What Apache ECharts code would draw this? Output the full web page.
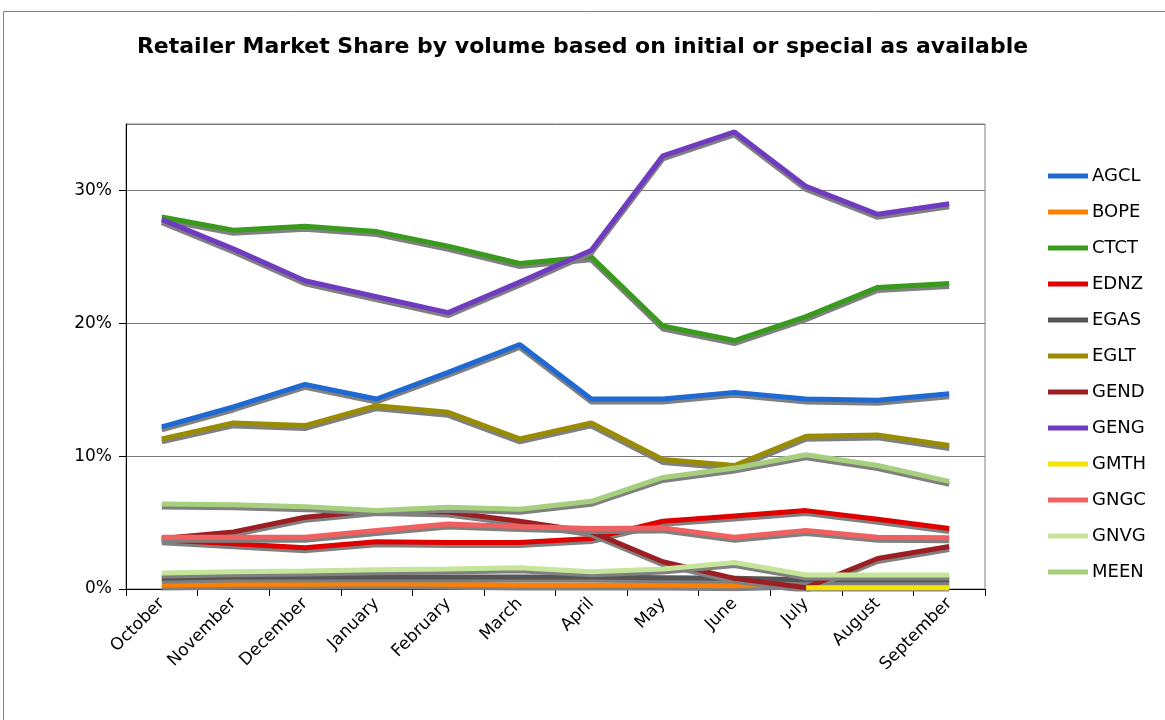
<!DOCTYPE html>
<html>
<head>
<meta charset="utf-8">
<script src="https://cdn.jsdelivr.net/npm/echarts@6/dist/echarts.min.js"></script>
<style>html,body{margin:0;padding:0;background:#fff;}#c{width:1165px;height:720px;}</style>
</head>
<body>
<div id="c"></div>
<script>
var months = ['October','November','December','January','February','March','April','May','June','July','August','September'];
var yTicks = [0, 10, 20, 30];
var AGCL = [12.2, 13.7, 15.4, 14.3, 16.3, 18.4, 14.3, 14.3, 14.8, 14.3, 14.2, 14.7];
var BOPE = [0.3, 0.35, 0.35, 0.4, 0.35, 0.3, 0.3, 0.3, 0.25, 0.4, 0.4, 0.4];
var CTCT = [28.0, 27.0, 27.3, 26.9, 25.8, 24.5, 25.0, 19.8, 18.7, 20.5, 22.7, 23.0];
var EDNZ = [3.7, 3.4, 3.1, 3.55, 3.5, 3.5, 3.8, 5.1, 5.5, 5.9, 5.25, 4.55];
var EGAS = [0.8, 0.9, 0.9, 0.9, 0.9, 0.9, 0.9, 0.85, 0.8, 0.7, 0.7, 0.7];
var EGLT = [11.3, 12.5, 12.3, 13.8, 13.3, 11.3, 12.5, 9.75, 9.3, 11.5, 11.6, 10.8];
var GEND = [3.8, 4.3, 5.4, 5.9, 5.8, 5.1, 4.3, 2.05, 0.8, 0.1, 2.3, 3.2];
var GENG = [27.8, 25.6, 23.2, 22.0, 20.8, 23.1, 25.5, 32.6, 34.4, 30.3, 28.2, 29.0];
var GMTH = ['-', '-', '-', '-', '-', '-', '-', '-', '-', 0.1, 0.1, 0.1];
var GNGC = [3.9, 3.9, 3.9, 4.4, 4.9, 4.7, 4.55, 4.6, 3.9, 4.4, 3.9, 3.85];
var GNVG = [1.2, 1.3, 1.35, 1.45, 1.5, 1.6, 1.3, 1.5, 2.0, 1.05, 1.05, 1.05];
var MEEN = [6.4, 6.35, 6.2, 5.9, 6.15, 6.0, 6.6, 8.4, 9.1, 10.1, 9.3, 8.1];

var seriesNames = ['AGCL','BOPE','CTCT','EDNZ','EGAS','EGLT','GEND','GENG','GMTH','GNGC','GNVG','MEEN'];
var seriesData = [AGCL, BOPE, CTCT, EDNZ, EGAS, EGLT, GEND, GENG, GMTH, GNGC, GNVG, MEEN];
var colors = ['#1e69d2','#ff8000','#3a9a1e','#e00000','#555555','#9a8c00','#9b1e22','#6f3cc0','#f5e400','#f06060','#c4e59a','#a6d07d'];

var chart = echarts.init(document.getElementById('c'), null, {renderer: 'canvas'});
var font = 'DejaVu Sans, Verdana, sans-serif';
var series = seriesNames.map(function (n, i) {
  return {
    name: n,
    type: 'line',
    data: seriesData[i],
    symbol: 'none',
    color: colors[i],
    lineStyle: {
      width: 5,
      color: colors[i],
      shadowColor: 'rgba(128,128,128,1)',
      shadowBlur: 0,
      shadowOffsetX: 0,
      shadowOffsetY: 3
    },
    emphasis: {disabled: true},
    animation: false
  };
});

chart.setOption({
  backgroundColor: '#fff',
  animation: false,
  color: colors,
  title: {
    text: 'Retailer Market Share by volume based on initial or special as available',
    left: 'center',
    top: 31,
    textStyle: {fontFamily: font, fontSize: 22, fontWeight: 'bold', color: '#000'}
  },
  graphic: [{
    type: 'rect',
    shape: {x: 3.5, y: 11.5, width: 1300, height: 900},
    style: {fill: 'none', stroke: '#808080', lineWidth: 1},
    silent: true
  }],
  legend: {
    orient: 'vertical',
    left: 1043,
    top: 162,
    icon: 'rect',
    itemWidth: 40,
    itemHeight: 5,
    itemGap: 18,
    textStyle: {fontFamily: font, fontSize: 18, color: '#000', padding: [0, 0, 0, -1]},
    data: seriesNames
  },
  grid: {
    left: 126, right: 180, top: 124, bottom: 131,
    show: true, borderColor: '#808080', borderWidth: 1, backgroundColor: 'transparent'
  },
  xAxis: {
    type: 'category',
    data: months,
    boundaryGap: true,
    axisLine: {lineStyle: {color: '#000', width: 1}},
    axisTick: {show: true, length: 7, lineStyle: {color: '#000'}},
    axisLabel: {rotate: 45, fontFamily: font, fontSize: 17, color: '#000', margin: 12, interval: 0},
    splitLine: {show: false}
  },
  yAxis: {
    type: 'value',
    min: yTicks[0],
    max: 35,
    interval: 10,
    axisLine: {show: true, lineStyle: {color: '#000', width: 1}},
    axisTick: {show: true, length: 7, lineStyle: {color: '#000'}},
    axisLabel: {
      fontFamily: font, fontSize: 17, color: '#000', margin: 14,
      showMaxLabel: false,
      formatter: function (v) { return yTicks.indexOf(v) >= 0 ? v + '%' : ''; }
    },
    splitLine: {show: true, lineStyle: {color: '#7a7a7a', width: 1}}
  },
  series: series
});
</script>
</body>
</html>
